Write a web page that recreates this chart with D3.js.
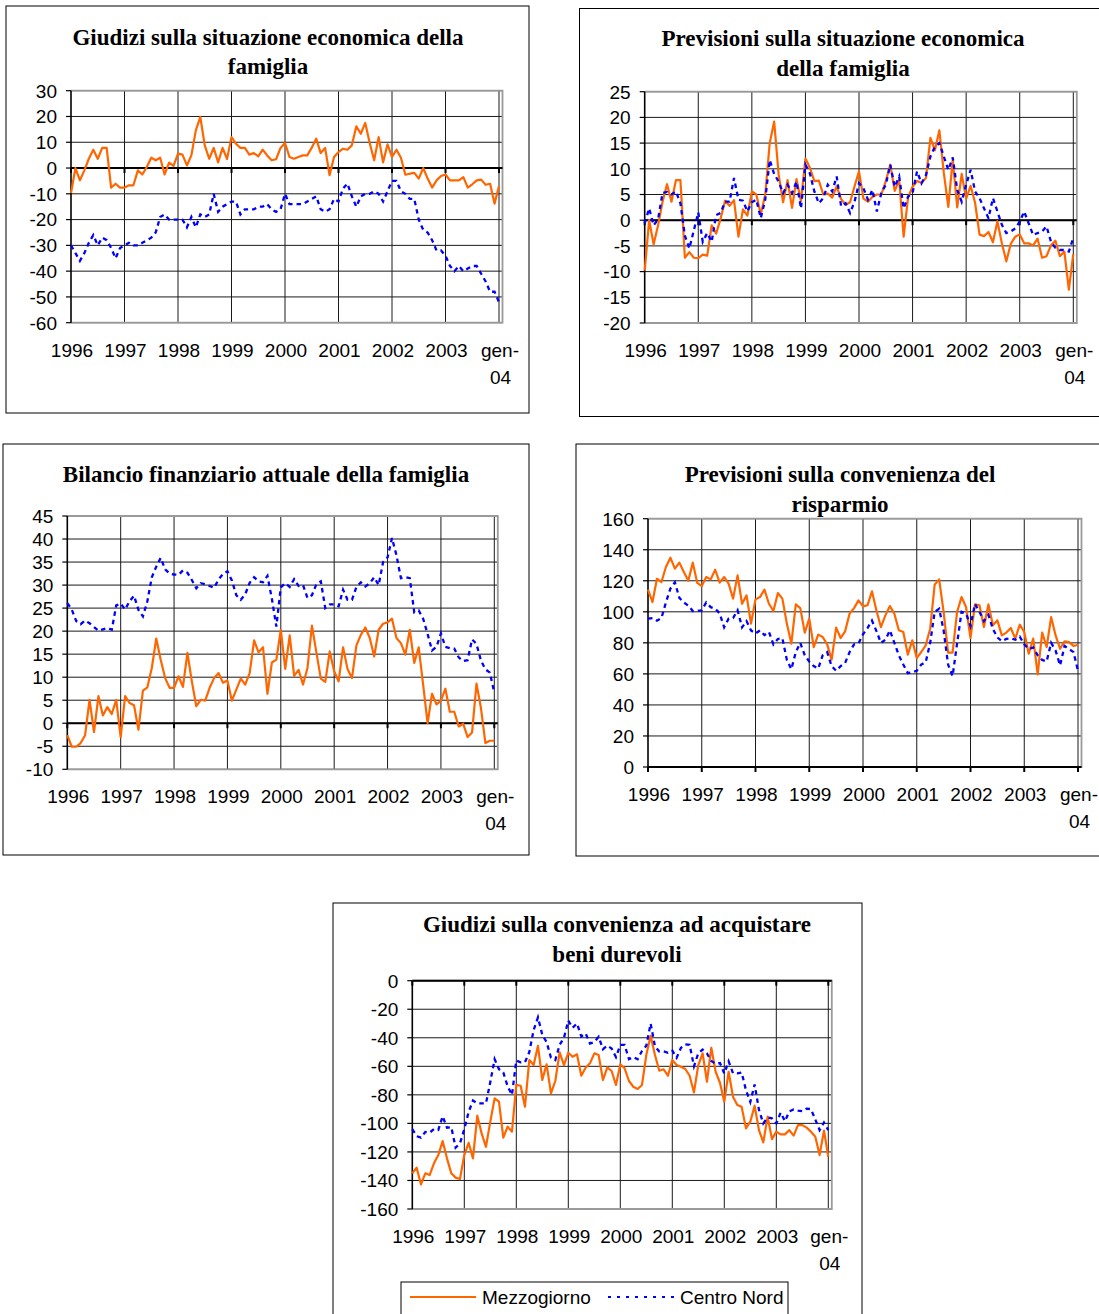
<!DOCTYPE html>
<html><head><meta charset="utf-8">
<script src="https://cdn.jsdelivr.net/npm/d3@7"></script>
<style>body{margin:0;background:#fff}svg{display:block}</style>
</head><body>
<svg id="chart" width="1099" height="1314"></svg>
<script>
// ---------- DATA ----------
const xTickLabels = ["1996","1997","1998","1999","2000","2001","2002","2003","gen-04"];
const xTickIndex = [0,12,24,36,48,60,72,84,96];
const seriesNames = ["Mezzogiorno","Centro Nord"];

const titles1 = ["Giudizi sulla situazione economica della","famiglia"];
const titles2 = ["Previsioni sulla situazione economica","della famiglia"];
const titles3 = ["Bilancio finanziario attuale della famiglia"];
const titles4 = ["Previsioni sulla convenienza del","risparmio"];
const titles5 = ["Giudizi sulla convenienza ad acquistare","beni durevoli"];

const yTicks1 = [-60,-50,-40,-30,-20,-10,0,10,20,30];
const yTicks2 = [-20,-15,-10,-5,0,5,10,15,20,25];
const yTicks3 = [-10,-5,0,5,10,15,20,25,30,35,40,45];
const yTicks4 = [0,20,40,60,80,100,120,140,160];
const yTicks5 = [-160,-140,-120,-100,-80,-60,-40,-20,0];

const p1Mezzogiorno = [-9.7,0,-4.8,-0.9,3.6,7.1,3.6,7.8,7.8,-7.6,-6.1,-7.6,
 -7.6,-6.7,-6.7,-0.9,-2.5,0.4,4,3,4,-2.5,2.1,0.8,
 5.6,5.2,1,4.9,14.6,19.8,8.8,3.6,7.8,2.2,7.8,3.5,
 12,9.4,7.8,7.8,5.2,5.8,4.5,7.1,4.9,3,3.4,7.8,
 9.7,4.3,3.6,4.3,4.9,4.9,7.9,11.4,5.8,7.8,-2.8,4.3,
 6.2,7.5,7.1,8.8,16.2,13.3,17.5,9.7,3,12,2.2,9.2,
 4.3,7.1,4,-2.6,-2.2,-1.9,-4.1,0,-4.1,-7.6,-4.8,-3.1,
 -2.5,-4.8,-4.8,-4.8,-3.5,-7.6,-6.3,-4.8,-4.5,-6.5,-6.1,-13.8,
 -7];
const p1CentroNord = [-30,-33,-36,-33,-29,-26,-30,-27,-28,-31,-35,-31,
 -30,-29,-30,-30,-29,-28,-27,-25,-19,-18,-20,-20,
 -20,-20,-23,-19,-23,-18,-19,-18,-10,-17,-15,-14,
 -13,-13,-18,-16,-16,-16,-15,-15,-14,-16,-17,-16,
 -10,-14,-14,-14,-14,-13,-12,-11,-16,-17,-16,-12,
 -13,-8,-6,-11,-15,-11,-10,-10,-9,-10,-13,-9,
 -5,-5,-9,-10,-12,-12,-20,-24,-25,-28,-32,-32,
 -34,-38,-40,-38,-40,-39,-38,-38,-41,-44,-48,-48,
 -52];

const p2Mezzogiorno = [-9.8,0,-4.7,-1,3.6,7,3.6,7.8,7.8,-7.3,-6.2,-7.3,
 -7.4,-6.7,-6.9,-1,-2.6,0.3,3.8,2.8,3.9,-3.2,2.1,0.9,
 5.6,5,1.1,5,15,19.2,8.9,3.5,7.8,2.4,8,3.7,
 12,10.2,7.6,7.7,5,5.2,4.4,6.6,4.1,3,3.5,6.6,
 9.5,4.2,3.6,4.5,5,5,7.6,10.8,5.7,7.8,-3.2,4.5,
 6.5,7.6,7.3,8.2,16,13.6,17.5,9.2,2.6,11.8,2.5,9,
 4.2,6.7,3.4,-2.8,-3.1,-2.3,-4.3,-0.2,-4.5,-8,-4.6,-3.2,
 -2.8,-4.5,-4.5,-4.9,-3.6,-7.3,-7,-4.9,-4,-7,-6.1,-13.5,
 -6.6];
const p2CentroNord = [-0.6,2.3,-1,0.2,5.3,5.5,5,5.6,3.3,-3,-5.5,-2,
 1.5,-4.2,-2.5,-4.2,1,1.4,3.6,3.6,8.2,4,3.8,1.7,
 3.5,4,0.4,4,11.7,9,7.5,5.3,6.9,5.3,7.5,2.3,
 10.8,9.1,5.6,3.3,4.3,6.9,5.6,8.5,2.7,3.3,1.4,3.6,
 7.2,6.2,4,5.9,1.7,5.3,6.9,10.8,6.5,8.5,2.3,4.6,
 5.3,9.5,7.2,8.8,12.4,14.3,15,12.4,9.8,12.2,5.9,3.6,
 6.9,9.8,5.6,4.3,2.3,0.4,4.3,1.7,-0.9,-2.5,-2.2,-1.6,
 -0.3,1.7,-0.6,-2.9,-2.5,-2.2,-1.2,-4.2,-5.4,-5.8,-5.8,-6.1,
 -3.5];

const p3Mezzogiorno = [-2.6,-5.1,-5.1,-4.3,-2.6,5.1,-1.9,5.9,1.7,3.5,2,5.1,
 -3,5.9,4.4,3.9,-1.4,7.1,7.8,12,18.4,13.8,9.8,7.7,
 7.7,10.2,7.9,15.3,9.1,3.7,5.1,4.9,7.7,9.8,10.9,8.8,
 9.3,4.9,7.3,9.7,8.4,10.9,18,15.4,16.5,6.4,13.2,13.8,
 20.3,11.8,19.1,10.3,11.6,8.4,12,21.2,15.4,9.7,9,15.6,
 11.3,9.1,16.5,11.8,9.8,16.9,19.2,20.8,18.5,14.5,20.3,21.6,
 21.9,22.7,18.5,17.4,14.9,20.3,13.1,16.5,8.4,0,6.4,4.1,
 4.9,7.5,2.5,2.5,-0.7,-0.1,-3,-2,8.6,3.3,-4.3,-3.8,
 -3.8];
const p3CentroNord = [26.1,24.7,22.2,21.5,22.3,21.7,20.9,20.1,20.4,20.7,20.3,25.6,
 26,24.7,26.5,27.7,24.6,23.2,26.5,31.7,34,35.9,33.4,32.5,
 32.3,32.2,33.2,32.7,31.1,29.3,30.4,30.2,29.8,29.4,31.2,32.4,
 33,31,27.8,26.8,28,30.5,31.7,30.8,30.6,32,27,21,
 29.5,30.4,29.6,31.3,29.8,30,27.2,27.8,30.2,30.8,25,25.8,
 25.8,25.4,29,26.8,26.8,29.6,30.6,29.7,30.4,31.7,30,35,
 36,40.2,36.5,31.5,31.7,31.5,24.1,24.5,22.7,19.4,15.8,16.6,
 19.5,16.6,16.3,16.2,14.3,13.5,13.7,18.2,17.2,13.6,11.7,11,
 6.6];

const p4Mezzogiorno = [114.3,106.3,121.3,119.2,128.9,134.9,127.8,131.7,125.6,120,131.7,118.6,
 116.6,122.4,120.9,127.1,118.8,122.4,118.1,108.5,123.5,105.2,110.6,92.4,
 108,109.5,114.3,105.2,100.5,112.1,108.5,92.4,79.5,104.8,102.4,86.6,
 95.6,77.3,85.3,83.8,79,69.2,89.8,83.1,87.4,98.8,102.4,107.4,
 103.5,104.2,113.2,100.9,90.2,97.7,103.7,98.8,88.1,87,72.4,81.6,
 70.2,74.1,78.4,89.1,117.5,120.9,99.9,73.7,73.7,99.9,109.5,103.1,
 83.1,104.8,104.2,90.2,104.8,91.3,94.5,84.8,86.6,89.6,82.7,91.7,
 87,73,82.7,59.7,86.6,77.3,96.6,84.8,76.2,81,80.5,78,
 78.8];
const p4CentroNord = [95.6,96,94.3,96,106,115,119,109,106,104,100.5,100.5,
 101,106,103,102,99,90,95.6,96,101,90,94,88,
 86,88,85,87,79,82.5,83,69,63,74,80,72,
 68,65,63.4,72,74,65,62,65,67,74,79,79.6,
 85.5,89.5,94.4,87.6,80,82,88,80,72,66,60.5,61,
 62,66,67.5,80,100,102,88,66,58.6,79.5,100,99,
 91,105,100,94,98,89,83.5,81,82.5,83,82,84,
 79,76,77,72,69,68,80,75,65.5,78,76,74,
 62];

const p5Mezzogiorno = [-135,-131,-142.8,-135,-136.2,-128,-122.2,-112.4,-124.5,-135,-138,-139,
 -122.2,-113.6,-124.5,-94.6,-107,-116.4,-98.8,-82.5,-84.8,-110,-102.3,-105.8,
 -73,-73.6,-88.3,-55.6,-59.1,-45.6,-69.6,-58.6,-79,-70.3,-50.2,-59.1,
 -50.5,-53.3,-51.6,-66.6,-61,-57.9,-50.9,-52.1,-69.6,-60.7,-63.3,-73.1,
 -58.6,-61.4,-70.3,-74.3,-75.9,-73.1,-52.1,-38.6,-52.1,-63.1,-62.1,-66.6,
 -55.6,-59.1,-60.3,-61.9,-66.6,-78.3,-59.1,-50.9,-70.8,-47,-63.8,-71.5,
 -84.8,-63.8,-81.3,-87.1,-88.3,-103.5,-98.8,-87.6,-104.7,-113.3,-95.3,-111,
 -105.8,-107.7,-107.7,-104.7,-108.6,-101.2,-101.2,-103,-105.8,-109.3,-122.2,-105.1,
 -123.4];
const p5CentroNord = [-104,-109,-110,-106,-106.5,-104,-104.6,-95,-103,-102.6,-117,-114,
 -104,-92,-84,-86,-86,-86,-71,-55,-62,-64.3,-74,-80,
 -56,-57.2,-57.2,-50,-34.6,-25.7,-38,-43,-54,-55.6,-45,-40,
 -28,-33,-30,-39,-37,-44,-43,-39.3,-48,-45.5,-47.5,-53.5,
 -45,-45,-55,-53.5,-55,-49.3,-45.6,-30,-46,-49.6,-49.5,-50.5,
 -49,-54,-47,-44.6,-44.9,-60,-50.9,-48.3,-51,-56.3,-58.3,-57.7,
 -65,-56.5,-64.8,-65,-64.3,-76.7,-85,-72.7,-90.5,-100,-95.8,-96.5,
 -100,-92.5,-98.5,-91.6,-90.3,-91,-91.5,-89.7,-90,-97.3,-104.7,-99.4,
 -104.7];

// ---------- LAYOUT ----------
const panels = [
 {frame:[6,6,529,413], l:71, r:499, t:90.7, b:322.7, yTicks:yTicks1, title:titles1, tx:268, ty:[44.5,74], m:p1Mezzogiorno, c:p1CentroNord},
 {frame:[579.5,8.5,1104,416.5], l:644.7, r:1073.3, t:91.7, b:323, yTicks:yTicks2, title:titles2, tx:843, ty:[46,76], m:p2Mezzogiorno, c:p2CentroNord},
 {frame:[3,444,529,855], l:67.3, r:494.3, t:516, b:769.3, yTicks:yTicks3, title:titles3, tx:266, ty:[481.5], m:p3Mezzogiorno, c:p3CentroNord},
 {frame:[576,444,1100,856], l:648, r:1078, t:518.7, b:767, yTicks:yTicks4, title:titles4, tx:840, ty:[481.5,511.5], m:p4Mezzogiorno, c:p4CentroNord},
 {frame:[333,903,862,1330], l:412.3, r:828.3, t:980.7, b:1209, yTicks:yTicks5, title:titles5, tx:617, ty:[932,961.5], m:p5Mezzogiorno, c:p5CentroNord}
];

const ORANGE = "#FF6600", BLUE = "#0000FF";
const SANS = "'Liberation Sans', Arial, sans-serif";
const SERIF = "'Liberation Serif', 'Times New Roman', serif";

const svg = d3.select("#chart");
svg.append("rect").attr("width",1099).attr("height",1314).attr("fill","#fff");

panels.forEach(p => {
  const g = svg.append("g");
  const [fx0,fy0,fx1,fy1] = p.frame;
  g.append("rect").attr("x",fx0).attr("y",fy0).attr("width",fx1-fx0).attr("height",fy1-fy0)
    .attr("fill","none").attr("stroke","#000").attr("stroke-width",1);

  p.title.forEach((s,i) => {
    g.append("text").attr("x",p.tx).attr("y",p.ty[i]).attr("text-anchor","middle")
      .attr("font-family",SERIF).attr("font-weight","bold").attr("font-size",23)
      .attr("fill","#000").text(s);
  });

  const yMin = d3.min(p.yTicks), yMax = d3.max(p.yTicks);
  const x = d3.scaleLinear().domain([0,96]).range([p.l,p.r]);
  const y = d3.scaleLinear().domain([yMin,yMax]).range([p.b,p.t]);
  const right = p.r + 3.5;

  g.selectAll(null).data(p.yTicks).enter().append("line")
    .attr("x1",p.l).attr("x2",right).attr("y1",d=>y(d)).attr("y2",d=>y(d))
    .attr("stroke","#1a1a1a").attr("stroke-width",1);
  g.selectAll(null).data(xTickIndex.slice(1)).enter().append("line")
    .attr("x1",d=>x(d)).attr("x2",d=>x(d)).attr("y1",p.t).attr("y2",p.b)
    .attr("stroke","#1a1a1a").attr("stroke-width",1);
  g.append("path").attr("d",`M${p.l},${p.t}H${right}V${p.b}H${p.l}`)
    .attr("fill","none").attr("stroke","#9a9a9a").attr("stroke-width",1.8);

  g.append("line").attr("x1",p.l).attr("x2",p.l).attr("y1",p.t).attr("y2",p.b)
    .attr("stroke","#000").attr("stroke-width",1.6);
  g.selectAll(null).data(p.yTicks).enter().append("line")
    .attr("x1",p.l-5).attr("x2",p.l).attr("y1",d=>y(d)).attr("y2",d=>y(d))
    .attr("stroke","#000").attr("stroke-width",1.2);
  g.selectAll(null).data(p.yTicks).enter().append("text")
    .attr("x",p.l-14).attr("y",d=>y(d)).attr("dy","0.36em").attr("text-anchor","end")
    .attr("font-family",SANS).attr("font-size",19).attr("fill","#000").text(d=>d);

  const y0 = y(0);
  g.append("line").attr("x1",p.l).attr("x2",right).attr("y1",y0).attr("y2",y0)
    .attr("stroke","#000").attr("stroke-width",2);
  g.selectAll(null).data(xTickIndex).enter().append("line")
    .attr("x1",d=>x(d)).attr("x2",d=>x(d)).attr("y1",y0).attr("y2",y0+5)
    .attr("stroke","#000").attr("stroke-width",2);

  xTickIndex.forEach((idx,k) => {
    const lab = xTickLabels[k];
    const parts = lab.startsWith("gen") ? ["gen-", lab.slice(4)] : [lab];
    parts.forEach((s,j) => {
      g.append("text").attr("x",x(idx) + (j===1 ? 1.5 : 1)).attr("y",p.b+34+j*27)
        .attr("text-anchor","middle").attr("font-family",SANS).attr("font-size",19)
        .attr("fill","#000").text(s);
    });
  });

  const line = d3.line().x((d,i)=>x(i)).y(d=>y(d));
  g.append("path").datum(p.m).attr("d",line).attr("fill","none")
    .attr("stroke",ORANGE).attr("stroke-width",2.2).attr("stroke-linejoin","round");
  g.append("path").datum(p.c).attr("d",line).attr("fill","none")
    .attr("stroke",BLUE).attr("stroke-width",2.3).attr("stroke-dasharray","4.5,4");
});

const lg = svg.append("g");
lg.append("rect").attr("x",401).attr("y",1282).attr("width",387).attr("height",45)
  .attr("fill","#fff").attr("stroke","#000").attr("stroke-width",1);
lg.append("line").attr("x1",410).attr("x2",476).attr("y1",1297).attr("y2",1297)
  .attr("stroke",ORANGE).attr("stroke-width",2.2);
lg.append("text").attr("x",482).attr("y",1303.5).attr("font-family",SANS).attr("font-size",19)
  .attr("fill","#000").text(seriesNames[0]);
lg.append("line").attr("x1",608).attr("x2",676).attr("y1",1297).attr("y2",1297)
  .attr("stroke",BLUE).attr("stroke-width",2).attr("stroke-dasharray","3,6");
lg.append("text").attr("x",680).attr("y",1303.5).attr("font-family",SANS).attr("font-size",19)
  .attr("fill","#000").text(seriesNames[1]);
</script>
</body></html>
